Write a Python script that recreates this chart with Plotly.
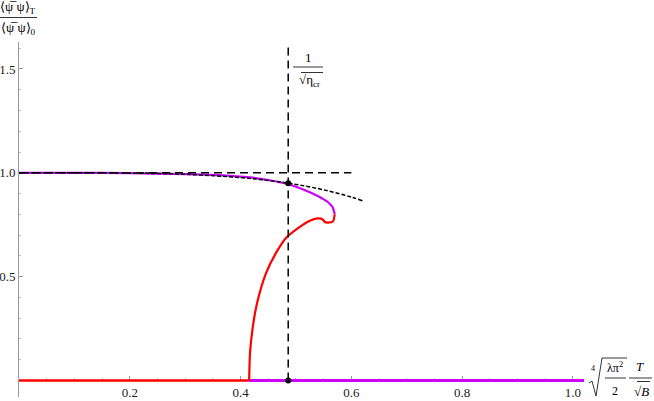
import plotly.graph_objects as go

# values
x_cr = 0.486
y_cr = 0.950

upper_x = [0, 0.1, 0.2, 0.3, 0.357, 0.417, 0.455, 0.483, 0.505, 0.525, 0.545, 0.558, 0.566, 0.570]
upper_y = [1.0, 1.0, 0.998, 0.994, 0.989, 0.978, 0.963, 0.947, 0.928, 0.906, 0.880, 0.858, 0.835, 0.800]

red_x = [0.570, 0.567, 0.558, 0.552, 0.549, 0.539, 0.524, 0.505, 0.482, 0.464, 0.446, 0.431, 0.422, 0.417, 0.4155]
red_y = [0.800, 0.767, 0.760, 0.763, 0.774, 0.780, 0.768, 0.736, 0.686, 0.614, 0.517, 0.386, 0.257, 0.130, 0.0]

approx_x = [0, 0.1, 0.2, 0.3, 0.4, 0.45, 0.5, 0.55, 0.6, 0.62]
approx_y = [1.0, 1.0, 0.9986, 0.9927, 0.977, 0.963, 0.944, 0.918, 0.883, 0.865]

low_red_x = [0, 0.4155]
low_mag_x = [0.4155, 1.02]
flat_x = [0, 0.6]

x_ticks = [0.2, 0.4, 0.6, 0.8, 1.0]
y_ticks = [0.5, 1.0, 1.5]

MAG = "#cc00ff"
RED = "#ff0000"
FONT = "'Liberation Serif', 'Times New Roman', serif"

# plot area in pixels (for placing the hand-made labels)
L, R, T, B = 19, 584, 42, 397


def px(x):
    return (x - L) / (R - L)


def py(y):
    return (B - y) / (B - T)


fig = go.Figure()

fig.add_trace(go.Scatter(x=low_red_x, y=[0, 0], mode="lines", line=dict(color=RED, width=2.5), cliponaxis=False))
fig.add_trace(go.Scatter(x=low_mag_x, y=[0, 0], mode="lines", line=dict(color=MAG, width=3), cliponaxis=False))
fig.add_trace(go.Scatter(x=upper_x, y=upper_y, mode="lines", line=dict(color=MAG, width=2.2, shape="spline", smoothing=0.6)))
fig.add_trace(go.Scatter(x=red_x, y=red_y, mode="lines", line=dict(color=RED, width=2.2, shape="spline", smoothing=0.6)))
fig.add_trace(go.Scatter(x=flat_x, y=[1, 1], mode="lines", line=dict(color="black", width=1.5, dash="8px,5px")))
fig.add_trace(go.Scatter(x=approx_x, y=approx_y, mode="lines",
                         line=dict(color="black", width=1.5, dash="4px,2px", shape="spline")))
fig.add_trace(go.Scatter(x=[x_cr, x_cr], y=[0, 1.62], mode="lines", line=dict(color="black", width=1.5, dash="8px,5px")))
fig.add_trace(go.Scatter(x=[x_cr, x_cr], y=[0, y_cr], mode="markers", marker=dict(color="black", size=6),
                         cliponaxis=False))

ann = []
shapes = []


def text(x, y, s, size=13):
    ann.append(dict(text=s, x=px(x), y=py(y), xref="paper", yref="paper", showarrow=False,
                    xanchor="center", yanchor="middle", font=dict(family=FONT, size=size, color="black")))


def hline(x0, x1, y):
    shapes.append(dict(type="line", xref="paper", yref="paper", x0=px(x0), x1=px(x1), y0=py(y), y1=py(y),
                       line=dict(color="black", width=0.8)))


# y label: <psibar psi>_T / <psibar psi>_0
text(18, 8, "⟨ψ̅ ψ⟩<sub>T</sub>", 13)
hline(0, 37, 17.5)
text(18, 28, "⟨ψ̅ ψ⟩<sub>0</sub>", 13)

# 1/sqrt(eta_cr)
text(308, 57, "1", 13)
hline(293, 323, 67)
text(309, 81, "√η<sub>cr</sub>", 13)
hline(301, 323, 72.5)

# x label: (lambda pi^2 / 2)^(1/4) T / sqrt(B)
text(593, 368, "4", 8)
shapes.append(dict(type="path", xref="paper", yref="paper",
                   path=f"M {px(589)},{py(383)} L {px(592)},{py(381)} L {px(596)},{py(396)} "
                        f"L {px(602)},{py(358)} L {px(627)},{py(358)}",
                   line=dict(color="black", width=0.8)))
text(615, 367, "λπ<sup>2</sup>", 12)
hline(605, 626, 378)
text(615, 391, "2", 12)
text(640, 366, "<i>T</i>", 13)
hline(629, 652, 378)
text(641, 391, "√<i>B</i>", 13)
hline(637, 650, 381.5)

axis_common = dict(showgrid=False, zeroline=False, showline=True, linecolor="#999", linewidth=1,
                   ticks="inside", ticklen=4, tickcolor="#999", automargin=False, layer="below traces",
                   tickfont=dict(family=FONT, size=13, color="#222"))

fig.update_layout(
    width=654, height=401,
    margin=dict(l=L, r=654 - R, t=T, b=401 - B, autoexpand=False),
    paper_bgcolor="white", plot_bgcolor="white",
    showlegend=False,
    annotations=ann, shapes=shapes,
    font=dict(family=FONT, size=13, color="#222"),
    xaxis=dict(range=[0, 1.02], anchor="free", position=0.08 / 1.71,
               tickvals=x_ticks, ticktext=[f"{v:.1f}" for v in x_ticks],
               minor=dict(tickmode="linear", tick0=0, dtick=0.05, ticks="inside", ticklen=2, tickcolor="#bbb"),
               **axis_common),
    yaxis=dict(range=[-0.08, 1.63],
               tickvals=y_ticks, ticktext=[f"{v:.1f}" for v in y_ticks],
               minor=dict(tickmode="linear", tick0=0, dtick=0.1, ticks="inside", ticklen=2, tickcolor="#bbb"),
               **axis_common),
)

# the page has a default 8px body margin; drop it so the figure sits at the window corner
fig.write_html("out.html", config={"displayModeBar": False},
               post_script="document.body.style.margin='0';")
